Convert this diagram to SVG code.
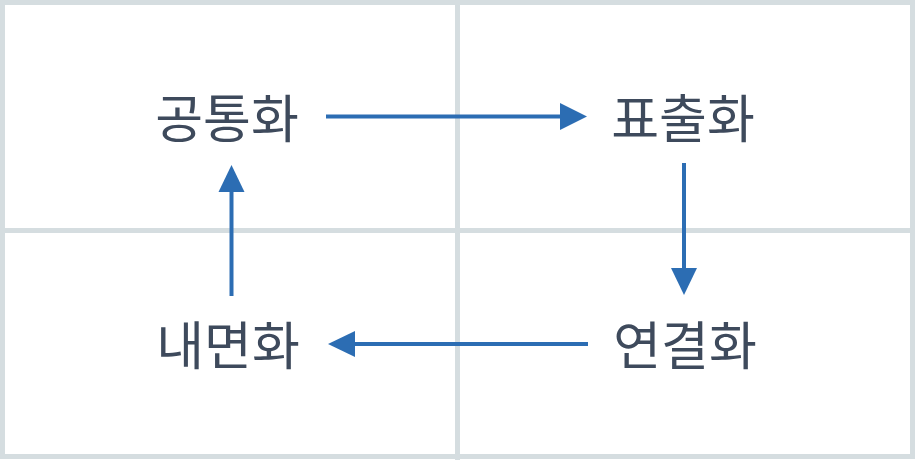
<svg xmlns="http://www.w3.org/2000/svg" width="915" height="460" viewBox="0 0 915 460">
<defs>
<style>
.grid{fill:none;stroke:#d5dde0;stroke-width:5}
.lbl{font-family:"Noto Sans CJK KR","Noto Sans",sans-serif;font-size:52px;fill:#3e4a5c;text-anchor:middle;dominant-baseline:central}
.con{stroke:#2c6db3;stroke-width:4;fill:none}
.head{fill:#2c6db3}
</style>
</defs>
<rect width="915" height="460" fill="#ffffff"/>
<g id="grid">
<rect class="grid" x="2.5" y="2.5" width="910" height="454"/>
<line class="grid" x1="457.5" y1="0" x2="457.5" y2="460"/>
<line class="grid" x1="0" y1="230.5" x2="915" y2="230.5"/>
</g>
<g id="connectors">
<line class="con" x1="326" y1="116.5" x2="562" y2="116.5"/>
<polygon class="head" points="560,103 587,116.5 560,130"/>
<line class="con" x1="684" y1="163" x2="684" y2="270"/>
<polygon class="head" points="671,268 684,295 697,268"/>
<line class="con" x1="588" y1="344" x2="352" y2="344"/>
<polygon class="head" points="355,331 328,344 355,357"/>
<line class="con" x1="231.5" y1="296" x2="231.5" y2="190"/>
<polygon class="head" points="218.5,192 231.5,165 244.5,192"/>
</g>
<g id="n1"><text class="lbl" x="227" y="115">공통화</text></g>
<g id="n2"><text class="lbl" x="683" y="115">표출화</text></g>
<g id="n3"><text class="lbl" x="685" y="342">연결화</text></g>
<g id="n4"><text class="lbl" x="228" y="342">내면화</text></g>
</svg>
